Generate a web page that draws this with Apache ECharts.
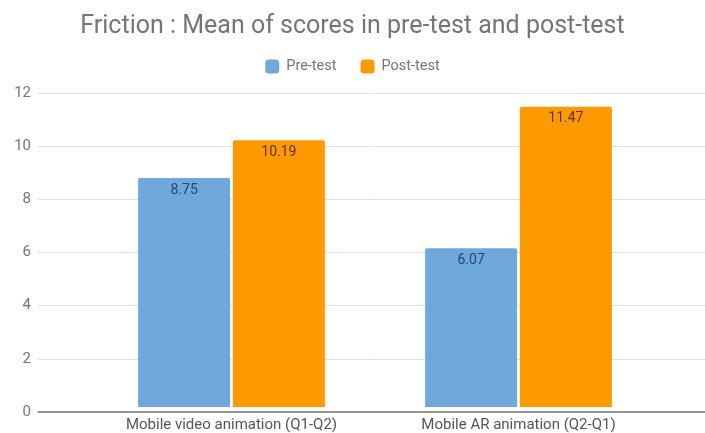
<!DOCTYPE html>
<html>
<head>
<meta charset="utf-8">
<script src="https://cdn.jsdelivr.net/npm/echarts@6/dist/echarts.min.js"></script>
<style>html,body{margin:0;padding:0;background:#fff}#c{width:705px;height:433px}</style>
</head>
<body>
<div id="c"></div>
<script>
const categories = ['Mobile video animation (Q1-Q2)', 'Mobile AR animation (Q2-Q1)'];
const preTest = [8.75, 6.07];
const postTest = [10.19, 11.47];
const yTicks = { min: 0, max: 12, interval: 2 };

const chart = echarts.init(document.getElementById('c'));
const font = 'Roboto, sans-serif';
chart.setOption({
  animation: false,
  title: {
    text: 'Friction : Mean of scores in pre-test and post-test',
    left: 'center', top: 9,
    textStyle: { fontFamily: font, fontSize: 25, fontWeight: 'normal', color: '#757575' }
  },
  legend: {
    top: 54, left: 'center',
    itemWidth: 14, itemHeight: 14, itemGap: 24,
    icon: 'roundRect',
    textStyle: { fontFamily: font, fontSize: 14.5, color: '#757575', padding: [0, 0, 0, 2] },
    data: ['Pre-test', 'Post-test']
  },
  grid: [
    { left: 38, right: 0, top: 93, bottom: 21 },
    { left: 88, right: 43, top: 93, bottom: 21 }
  ],
  xAxis: [
    { type: 'category', gridIndex: 0, data: [''], axisLine: { lineStyle: { color: '#777', width: 1.5 } },
      axisTick: { show: false }, axisLabel: { show: false } },
    { type: 'category', gridIndex: 1, data: categories,
      axisLine: { show: false }, axisTick: { show: false },
      axisLabel: { fontFamily: font, fontSize: 15, color: '#555', margin: 11 } }
  ],
  yAxis: [
    { type: 'value', gridIndex: 0, min: yTicks.min, max: yTicks.max, interval: yTicks.interval,
      axisLine: { show: false }, axisTick: { show: false },
      axisLabel: { fontFamily: font, fontSize: 15, color: '#757575', margin: 7 },
      splitLine: { lineStyle: { color: '#e0e0e0' } } },
    { type: 'value', gridIndex: 1, min: yTicks.min, max: yTicks.max, interval: yTicks.interval,
      axisLine: { show: false }, axisTick: { show: false }, axisLabel: { show: false },
      splitLine: { show: false } }
  ],
  series: [
    { name: 'Pre-test', type: 'bar', xAxisIndex: 1, yAxisIndex: 1, data: preTest,
      barWidth: 92, barGap: '3%',
      itemStyle: { color: '#6fa8dc', borderRadius: [2, 2, 0, 0] },
      label: { show: true, position: 'insideTop', distance: 5,
        fontFamily: font, fontSize: 14, color: '#2b4563', formatter: p => p.value.toFixed(2) } },
    { name: 'Post-test', type: 'bar', xAxisIndex: 1, yAxisIndex: 1, data: postTest,
      barWidth: 92, barGap: '3%',
      itemStyle: { color: '#ff9900', borderRadius: [2, 2, 0, 0] },
      label: { show: true, position: 'insideTop', distance: 5,
        fontFamily: font, fontSize: 14, color: '#5a3300', formatter: p => p.value.toFixed(2) } }
  ]
});
</script>
</body>
</html>
